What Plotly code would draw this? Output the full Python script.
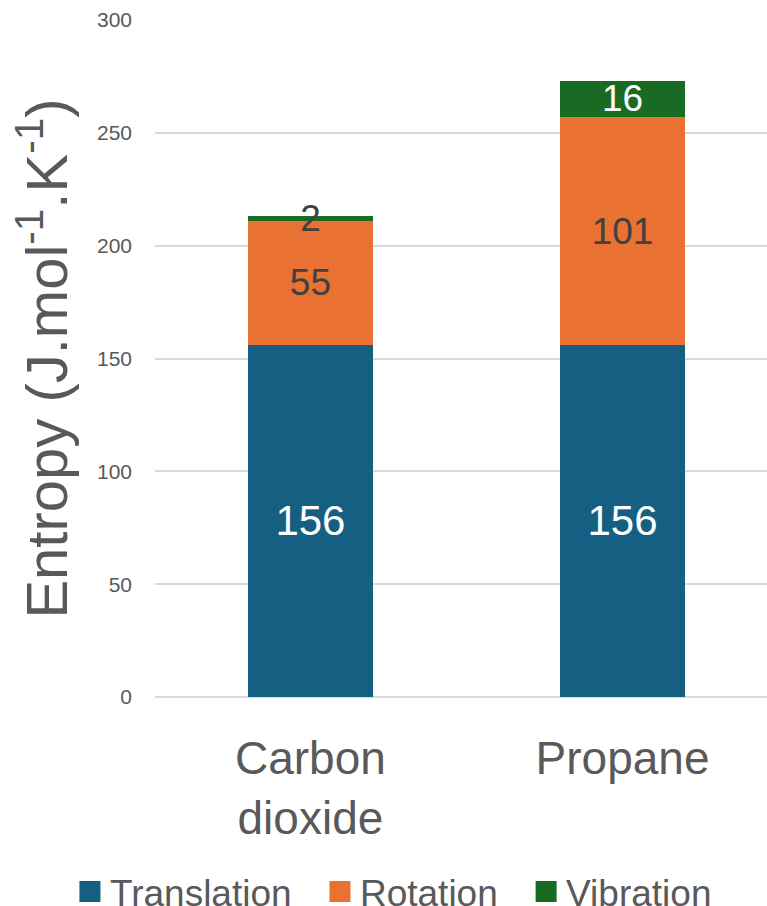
import plotly.graph_objects as go

categories = ["Carbon<br>dioxide", "Propane"]
translation = [156, 156]
rotation = [55, 101]
vibration = [2, 16]

series_names = ["Translation", "Rotation", "Vibration"]
series_values = [translation, rotation, vibration]
colors = ["#156082", "#E97132", "#196B24"]
label_colors = [["#ffffff", "#ffffff"], ["#404040", "#404040"], ["#404040", "#ffffff"]]
label_sizes = [42, 37, 37]
gap = "<span style='font-size:42px'>&nbsp;&nbsp;</span>"
legend_pad = [gap, gap, ""]

FONT = "Liberation Sans, Arial, sans-serif"

fig = go.Figure()
xs = [0, 1]
for name, vals, col, lc, ls in zip(series_names, series_values, colors, label_colors, label_sizes):
    fig.add_trace(go.Bar(
        x=xs, y=vals, name=name, marker=dict(color=col, line=dict(width=0)),
        width=0.40, text=[str(v) for v in vals], textposition="inside",
        insidetextanchor="middle", constraintext="none", textangle=0,
        textfont=dict(color=lc, size=ls, family=FONT),
        showlegend=False, hoverinfo="skip",
    ))
# legend entries
for name, col, pad in zip(series_names, colors, legend_pad):
    fig.add_trace(go.Scatter(
        x=[None], y=[None], mode="markers", name=name + pad,
        marker=dict(symbol="square", size=16, color=col, line=dict(color=col, width=5)),
        showlegend=True,
    ))

fig.update_layout(
    width=767, height=906,
    barmode="stack",
    plot_bgcolor="white", paper_bgcolor="white",
    margin=dict(l=155, r=0, t=20, b=209, autoexpand=False),
    font=dict(family=FONT, color="#595959"),
    legend=dict(
        orientation="h", xref="paper", yref="paper",
        x=-0.139, xanchor="left", y=-0.288, yanchor="middle",
        font=dict(size=37, color="#595959", family=FONT),
        itemsizing="trace", traceorder="normal",
    ),
    xaxis=dict(
        range=[-0.498, 1.463], tickmode="array", tickvals=xs, ticktext=categories,
        showgrid=False, showline=False, zeroline=False, ticks="",
        tickfont=dict(size=46, color="#595959"), ticklabelstandoff=30,
    ),
    yaxis=dict(
        range=[0, 300], dtick=50, tick0=0,
        showgrid=True, gridcolor="#d9d9d9", gridwidth=1.5,
        zeroline=True, zerolinecolor="#d9d9d9", zerolinewidth=1.5,
        showline=False, ticks="",
        tickfont=dict(size=21, color="#595959"), ticklabelstandoff=22,
        title=dict(text="Entropy (J.mol<sup>-1</sup>.K<sup>-1</sup>)",
                   font=dict(size=58, color="#595959"), standoff=10),
    ),
)

fig.write_html("out.html")
